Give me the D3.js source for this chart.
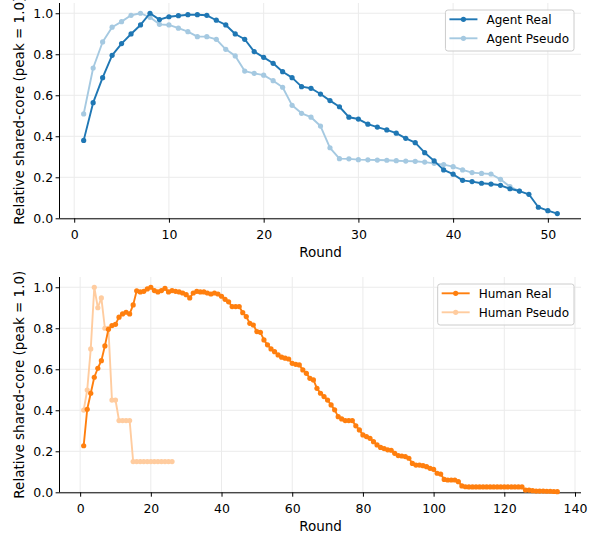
<!DOCTYPE html>
<html>
<head>
<meta charset="utf-8">
<script src="https://cdn.jsdelivr.net/npm/d3@7"></script>
<style>
  body { margin: 0; background: #fff; }
  svg { display: block; font-family: "DejaVu Sans", sans-serif; }
  .axisBlack path, .axisBlack line { stroke: #000; stroke-width: 1; }
  .axisBlack text { fill: #000; font-size: 12.5px; }
</style>
</head>
<body>
<div id="chart"></div>
<script>
// values (rounds start at 1)
var agentReal = [0.38, 0.564, 0.686, 0.795, 0.852, 0.899, 0.943, 1.0, 0.969, 0.983,
    0.988, 0.993, 0.993, 0.990, 0.966, 0.943, 0.899, 0.873, 0.813, 0.785,
    0.756, 0.715, 0.686, 0.642, 0.634, 0.606, 0.574, 0.544, 0.493, 0.484,
    0.459, 0.445, 0.431, 0.415, 0.390, 0.369, 0.320, 0.280, 0.236, 0.215,
    0.185, 0.179, 0.171, 0.167, 0.161, 0.144, 0.133, 0.117, 0.054, 0.037, 0.023];
var agentPseudo = [0.509, 0.733, 0.860, 0.932, 0.959, 0.990, 1.0, 0.98, 0.946, 0.943,
    0.927, 0.910, 0.886, 0.886, 0.873, 0.824, 0.792, 0.718, 0.707, 0.698,
    0.671, 0.639, 0.551, 0.512, 0.493, 0.450, 0.344, 0.291, 0.290, 0.286,
    0.285, 0.284, 0.283, 0.281, 0.279, 0.278, 0.274, 0.268, 0.262, 0.252,
    0.236, 0.223, 0.219, 0.216, 0.190, 0.154, 0.133];
var humanReal = [0.227, 0.405, 0.483, 0.561, 0.605, 0.642, 0.714, 0.795, 0.813, 0.819,
    0.854, 0.870, 0.878, 0.870, 0.914, 0.983, 0.977, 0.980, 0.992, 1.0,
    0.984, 0.977, 0.984, 0.995, 0.977, 0.984, 0.980, 0.977, 0.972, 0.964,
    0.948, 0.972, 0.980, 0.977, 0.977, 0.972, 0.967, 0.972, 0.967, 0.956,
    0.941, 0.929, 0.906, 0.906, 0.906, 0.876, 0.857, 0.824, 0.816, 0.784,
    0.780, 0.743, 0.719, 0.699, 0.686, 0.670, 0.659, 0.654, 0.650, 0.629,
    0.624, 0.621, 0.597, 0.580, 0.556, 0.548, 0.507, 0.483, 0.467, 0.450,
    0.426, 0.402, 0.369, 0.358, 0.350, 0.350, 0.350, 0.324, 0.304, 0.280,
    0.272, 0.263, 0.247, 0.231, 0.219, 0.213, 0.207, 0.205, 0.190, 0.179,
    0.177, 0.174, 0.166, 0.141, 0.133, 0.133, 0.130, 0.125, 0.117, 0.112,
    0.093, 0.089, 0.063, 0.060, 0.060, 0.060, 0.052, 0.031, 0.027, 0.026,
    0.026, 0.026, 0.026, 0.026, 0.026, 0.026, 0.026, 0.026, 0.026, 0.026,
    0.026, 0.026, 0.026, 0.026, 0.026, 0.011, 0.011, 0.008, 0.006, 0.006,
    0.006, 0.005, 0.005, 0.004, 0.003];
var humanPseudo = [0.401, 0.499, 0.699, 1.0, 0.900, 0.948, 0.800, 0.800, 0.450, 0.450,
    0.350, 0.350, 0.350, 0.350, 0.150, 0.150, 0.150, 0.150, 0.150, 0.150,
    0.150, 0.150, 0.150, 0.150, 0.150, 0.150];

var yTicks = [0, 0.2, 0.4, 0.6, 0.8, 1.0];
var topXTicks = [0, 10, 20, 30, 40, 50];
var bottomXTicks = [0, 20, 40, 60, 80, 100, 120, 140];

var svgW = 591, svgH = 533;
var left = 60, right = 581;

var svg = d3.select("#chart")
    .append("svg")
    .attr("width", svgW)
    .attr("height", svgH);

function toPoints(values) {
    return values.map(function (v, i) { return { round: i + 1, value: v }; });
}

function drawPanel(opts) {
    var g = svg.append("g");

    var x = d3.scaleLinear().domain(opts.xDomain).range([left, right]);
    var y = d3.scaleLinear().domain([0, 1.05]).range([opts.bottom, opts.top]);

    // grid
    g.append("g").selectAll("line.vg")
        .data(opts.xTicks)
        .enter().append("line")
        .attr("x1", function (d) { return x(d); })
        .attr("x2", function (d) { return x(d); })
        .attr("y1", opts.top).attr("y2", opts.bottom)
        .attr("stroke", "#ebebeb").attr("stroke-width", 1);
    g.append("g").selectAll("line.hg")
        .data(yTicks)
        .enter().append("line")
        .attr("x1", left).attr("x2", right)
        .attr("y1", function (d) { return y(d); })
        .attr("y2", function (d) { return y(d); })
        .attr("stroke", "#ebebeb").attr("stroke-width", 1);

    // axes
    var xAxis = g.append("g")
        .attr("class", "axisBlack")
        .attr("transform", "translate(0," + opts.bottom + ")")
        .call(d3.axisBottom(x).tickValues(opts.xTicks).tickSize(4.4).tickSizeOuter(0).tickFormat(d3.format("d")));
    xAxis.select(".domain").attr("d", "M" + left + ",0.5H" + right);
    xAxis.selectAll("text").attr("dy", null).attr("y", 20.3).attr("font-family", null);
    xAxis.attr("font-family", null).attr("font-size", null);

    var yAxis = g.append("g")
        .attr("class", "axisBlack")
        .attr("transform", "translate(" + left + ",0)")
        .call(d3.axisLeft(y).tickValues(yTicks).tickSize(4.4).tickSizeOuter(0).tickFormat(d3.format(".1f")));
    yAxis.select(".domain").attr("d", "M-0.5," + opts.top + "V" + opts.bottom);
    yAxis.selectAll("text").attr("x", -6.8).attr("dy", "0.36em");
    yAxis.attr("font-family", null).attr("font-size", null);

    g.append("text")
        .attr("x", (left + right) / 2)
        .attr("y", opts.bottom + 38.4)
        .attr("text-anchor", "middle")
        .style("font-size", "13.5px")
        .text("Round");

    g.append("text")
        .attr("transform", "translate(24," + ((opts.top + opts.bottom) / 2) + ") rotate(-90)")
        .attr("text-anchor", "middle")
        .style("font-size", "13.5px")
        .text("Relative shared-core (peak = 1.0)");

    var line = d3.line()
        .x(function (d) { return x(d.round); })
        .y(function (d) { return y(d.value); });

    // pale series first, then the strong one on top
    var order = [opts.series[1], opts.series[0]];
    order.forEach(function (s) {
        var pts = toPoints(s.values);
        g.append("path")
            .datum(pts)
            .attr("fill", "none")
            .attr("stroke", s.color)
            .attr("stroke-width", 1.9)
            .attr("stroke-linejoin", "round")
            .attr("d", line);
        g.append("g").selectAll("circle")
            .data(pts)
            .enter().append("circle")
            .attr("cx", function (d) { return x(d.round); })
            .attr("cy", function (d) { return y(d.value); })
            .attr("r", 2.6)
            .attr("fill", s.color);
    });

    // legend
    var lg = g.append("g");
    var box = lg.append("rect")
        .attr("fill", "#fff").attr("fill-opacity", 0.8)
        .attr("stroke", "#cccccc").attr("stroke-width", 1)
        .attr("rx", 2.5);
    var maxW = 0;
    opts.series.forEach(function (s, i) {
        var ly = opts.legendTop + 9.3 + i * 19;
        lg.append("line")
            .attr("x1", 0).attr("x2", 28)
            .attr("y1", ly).attr("y2", ly)
            .attr("stroke", s.color).attr("stroke-width", 1.9);
        lg.append("circle")
            .attr("cx", 14).attr("cy", ly).attr("r", 2.6)
            .attr("fill", s.color);
        var t = lg.append("text")
            .attr("x", 37).attr("y", ly)
            .attr("dy", "0.36em")
            .style("font-size", "12px")
            .text(s.name);
        maxW = Math.max(maxW, t.node().getComputedTextLength());
    });
    var boxW = 37 + maxW + 9;
    var boxX = 574 - boxW;
    box.attr("x", -4).attr("y", opts.legendTop)
        .attr("width", boxW).attr("height", 41);
    lg.attr("transform", "translate(" + (boxX + 4) + ",0)");
}

drawPanel({
    top: 3, bottom: 218.3,
    xDomain: [-1.5, 53.5],
    xTicks: topXTicks,
    legendTop: 10,
    series: [
        { name: "Agent Real", values: agentReal, color: "#1f77b4" },
        { name: "Agent Pseudo", values: agentPseudo, color: "#a5c9e1" }
    ]
});

drawPanel({
    top: 277, bottom: 492.3,
    xDomain: [-5.7, 141.7],
    xTicks: bottomXTicks,
    legendTop: 284,
    series: [
        { name: "Human Real", values: humanReal, color: "#ff7f0e" },
        { name: "Human Pseudo", values: humanPseudo, color: "#ffcc9f" }
    ]
});
</script>
</body>
</html>
